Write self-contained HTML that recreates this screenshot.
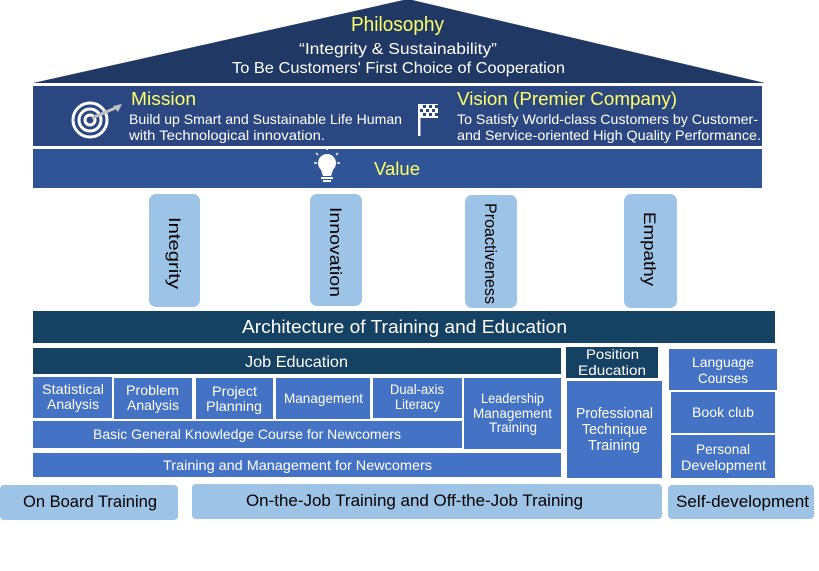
<!DOCTYPE html>
<html><head><meta charset="utf-8"><style>
html,body{margin:0;padding:0;background:#fff;}
svg{display:block;}
text{font-family:"Liberation Sans","DejaVu Sans",sans-serif;}
</style></head><body>
<svg width="819" height="571" viewBox="0 0 819 571" xmlns="http://www.w3.org/2000/svg">
<rect width="819" height="571" fill="#fff"/>
<!-- Roof -->
<polygon points="33,83 408,-1 765,83" fill="#203864"/>
<text x="351" y="31" font-size="20" fill="#ffff66" textLength="93" lengthAdjust="spacingAndGlyphs">Philosophy</text>
<text x="299" y="54" font-size="16" fill="#fff" textLength="198" lengthAdjust="spacingAndGlyphs">“Integrity &amp; Sustainability”</text>
<text x="232" y="73" font-size="16" fill="#fff" textLength="333" lengthAdjust="spacingAndGlyphs">To Be Customers' First Choice of Cooperation</text>
<!-- Mission/Vision band -->
<rect x="33" y="86" width="729" height="60" fill="#2a4781"/>
<text x="131" y="105" font-size="18" fill="#ffff66" textLength="65" lengthAdjust="spacingAndGlyphs">Mission</text>
<text x="129" y="124" font-size="14" fill="#fff" textLength="273" lengthAdjust="spacingAndGlyphs">Build up Smart and Sustainable Life Human</text>
<text x="129" y="140" font-size="14" fill="#fff" textLength="196" lengthAdjust="spacingAndGlyphs">with Technological innovation.</text>
<text x="457" y="105" font-size="18" fill="#ffff66" textLength="220" lengthAdjust="spacingAndGlyphs">Vision (Premier Company)</text>
<text x="457" y="124" font-size="14" fill="#fff" textLength="301" lengthAdjust="spacingAndGlyphs">To Satisfy World-class Customers by Customer-</text>
<text x="457" y="140" font-size="14" fill="#fff" textLength="304" lengthAdjust="spacingAndGlyphs">and Service-oriented High Quality Performance.</text>
<!-- target icon -->
<g fill="none" stroke="#fff">
<circle cx="90" cy="120" r="17" stroke-width="3"/>
<circle cx="90" cy="120" r="11" stroke-width="3"/>
<circle cx="90" cy="120" r="5" stroke-width="3"/>
</g>
<line x1="92" y1="118" x2="120" y2="106" stroke="#bfbfbf" stroke-width="3"/>
<polygon points="113,106 122,104 118,112" fill="#bfbfbf"/>
<!-- flag icon -->
<rect x="418" y="104" width="2.5" height="32" fill="#fff"/>
<g fill="#fff">
<rect x="420" y="104" width="18" height="14" fill="#fff"/>
</g>
<g fill="#2a4781">
<rect x="423" y="105" width="3" height="3"/><rect x="429" y="105" width="3" height="3"/><rect x="435" y="105" width="3" height="3"/>
<rect x="420" y="109" width="3" height="3"/><rect x="426" y="109" width="3" height="3"/><rect x="432" y="109" width="3" height="3"/>
<rect x="423" y="113" width="3" height="3"/><rect x="429" y="113" width="3" height="3"/><rect x="435" y="113" width="3" height="3"/>
</g>
<!-- Value band -->
<rect x="33" y="149" width="729" height="39" fill="#2f5597"/>
<text x="374" y="175" font-size="18" fill="#ffff66" textLength="46" lengthAdjust="spacingAndGlyphs">Value</text>
<!-- bulb -->
<circle cx="327" cy="163" r="9" fill="#fff"/>
<polygon points="320,167 334,167 331,176 323,176" fill="#fff"/>
<rect x="321" y="177" width="12" height="2" fill="#fff"/>
<rect x="323" y="180" width="8" height="2" fill="#fff"/>
<line x1="327" y1="147" x2="327" y2="150" stroke="#fff" stroke-width="1.5"/>
<line x1="314" y1="163" x2="317" y2="163" stroke="#fff" stroke-width="1.5"/>
<line x1="337" y1="163" x2="340" y2="163" stroke="#fff" stroke-width="1.5"/>
<line x1="316" y1="153" x2="318" y2="155" stroke="#fff" stroke-width="1.5"/>
<line x1="338" y1="153" x2="336" y2="155" stroke="#fff" stroke-width="1.5"/>
<!-- Pillars -->
<g fill="#9dc3e6">
<rect x="149" y="194" width="51" height="113" rx="7"/>
<rect x="310" y="194" width="52" height="112" rx="7"/>
<rect x="465" y="195" width="52" height="113" rx="7"/>
<rect x="624" y="194" width="53" height="114" rx="7"/>
</g>
<g font-size="17" fill="#000">
<text transform="translate(169,217) rotate(90)" textLength="72" lengthAdjust="spacingAndGlyphs">Integrity</text>
<text transform="translate(330,207) rotate(90)" textLength="90" lengthAdjust="spacingAndGlyphs">Innovation</text>
<text transform="translate(485,203) rotate(90)" textLength="101" lengthAdjust="spacingAndGlyphs">Proactiveness</text>
<text transform="translate(644,212) rotate(90)" textLength="74" lengthAdjust="spacingAndGlyphs">Empathy</text>
</g>
<!-- Architecture -->
<rect x="33" y="311" width="742" height="32" fill="#154162"/>
<text x="242" y="333" font-size="18" fill="#fff" textLength="325" lengthAdjust="spacingAndGlyphs">Architecture of Training and Education</text>
<rect x="33" y="348" width="528" height="26" fill="#154162"/>
<text x="245" y="367" font-size="16" fill="#fff" textLength="103" lengthAdjust="spacingAndGlyphs">Job Education</text>
<rect x="566" y="347" width="92" height="31" fill="#154162"/>
<g font-size="14" fill="#fff">
<text x="586" y="359" textLength="53" lengthAdjust="spacingAndGlyphs">Position</text>
<text x="578" y="375" textLength="68" lengthAdjust="spacingAndGlyphs">Education</text>
</g>
<!-- boxes -->
<g fill="#4472c4">
<rect x="33" y="377" width="79" height="41"/>
<rect x="114" y="378" width="78" height="41"/>
<rect x="196" y="378" width="77" height="41"/>
<rect x="276" y="378" width="94" height="41"/>
<rect x="373" y="378" width="89" height="40"/>
<rect x="464" y="378" width="97" height="71"/>
<rect x="33" y="421" width="429" height="27"/>
<rect x="33" y="453" width="528" height="24"/>
<rect x="567" y="381" width="95" height="97"/>
<rect x="669" y="349" width="108" height="41"/>
<rect x="671" y="392" width="104" height="41"/>
<rect x="671" y="435" width="104" height="43"/>
</g>
<g font-size="14" fill="#fff">
<text x="42" y="394" textLength="62" lengthAdjust="spacingAndGlyphs">Statistical</text>
<text x="47" y="409" textLength="52" lengthAdjust="spacingAndGlyphs">Analysis</text>
<text x="126" y="395" textLength="53" lengthAdjust="spacingAndGlyphs">Problem</text>
<text x="127" y="410" textLength="52" lengthAdjust="spacingAndGlyphs">Analysis</text>
<text x="212" y="396" textLength="45" lengthAdjust="spacingAndGlyphs">Project</text>
<text x="206" y="411" textLength="56" lengthAdjust="spacingAndGlyphs">Planning</text>
<text x="284" y="403" textLength="79" lengthAdjust="spacingAndGlyphs">Management</text>
<text x="390" y="394" textLength="54" lengthAdjust="spacingAndGlyphs">Dual-axis</text>
<text x="395" y="409" textLength="45" lengthAdjust="spacingAndGlyphs">Literacy</text>
<text x="481" y="403" textLength="63" lengthAdjust="spacingAndGlyphs">Leadership</text>
<text x="473" y="418" textLength="79" lengthAdjust="spacingAndGlyphs">Management</text>
<text x="489" y="432" textLength="48" lengthAdjust="spacingAndGlyphs">Training</text>
<text x="93" y="439" textLength="308" lengthAdjust="spacingAndGlyphs">Basic General Knowledge Course for Newcomers</text>
<text x="163" y="470" textLength="269" lengthAdjust="spacingAndGlyphs">Training and Management for Newcomers</text>
<text x="576" y="418" font-size="15" textLength="77" lengthAdjust="spacingAndGlyphs">Professional</text>
<text x="582" y="434" font-size="15" textLength="65" lengthAdjust="spacingAndGlyphs">Technique</text>
<text x="588" y="450" font-size="15" textLength="52" lengthAdjust="spacingAndGlyphs">Training</text>
<text x="692" y="367" textLength="62" lengthAdjust="spacingAndGlyphs">Language</text>
<text x="698" y="383" textLength="50" lengthAdjust="spacingAndGlyphs">Courses</text>
<text x="692" y="417" textLength="62" lengthAdjust="spacingAndGlyphs">Book club</text>
<text x="696" y="454" textLength="54" lengthAdjust="spacingAndGlyphs">Personal</text>
<text x="681" y="470" textLength="85" lengthAdjust="spacingAndGlyphs">Development</text>
</g>
<!-- bottom -->
<g fill="#9dc3e6">
<rect x="0" y="485" width="178" height="35" rx="4"/>
<rect x="192" y="484" width="470" height="35" rx="4"/>
<rect x="668" y="485" width="146" height="34" rx="4"/>
</g>
<g font-size="17" fill="#000">
<text x="23" y="507" textLength="134" lengthAdjust="spacingAndGlyphs">On Board Training</text>
<text x="246" y="506" textLength="337" lengthAdjust="spacingAndGlyphs">On-the-Job Training and Off-the-Job Training</text>
<text x="676" y="507" textLength="133" lengthAdjust="spacingAndGlyphs">Self-development</text>
</g>
</svg>
</body></html>
